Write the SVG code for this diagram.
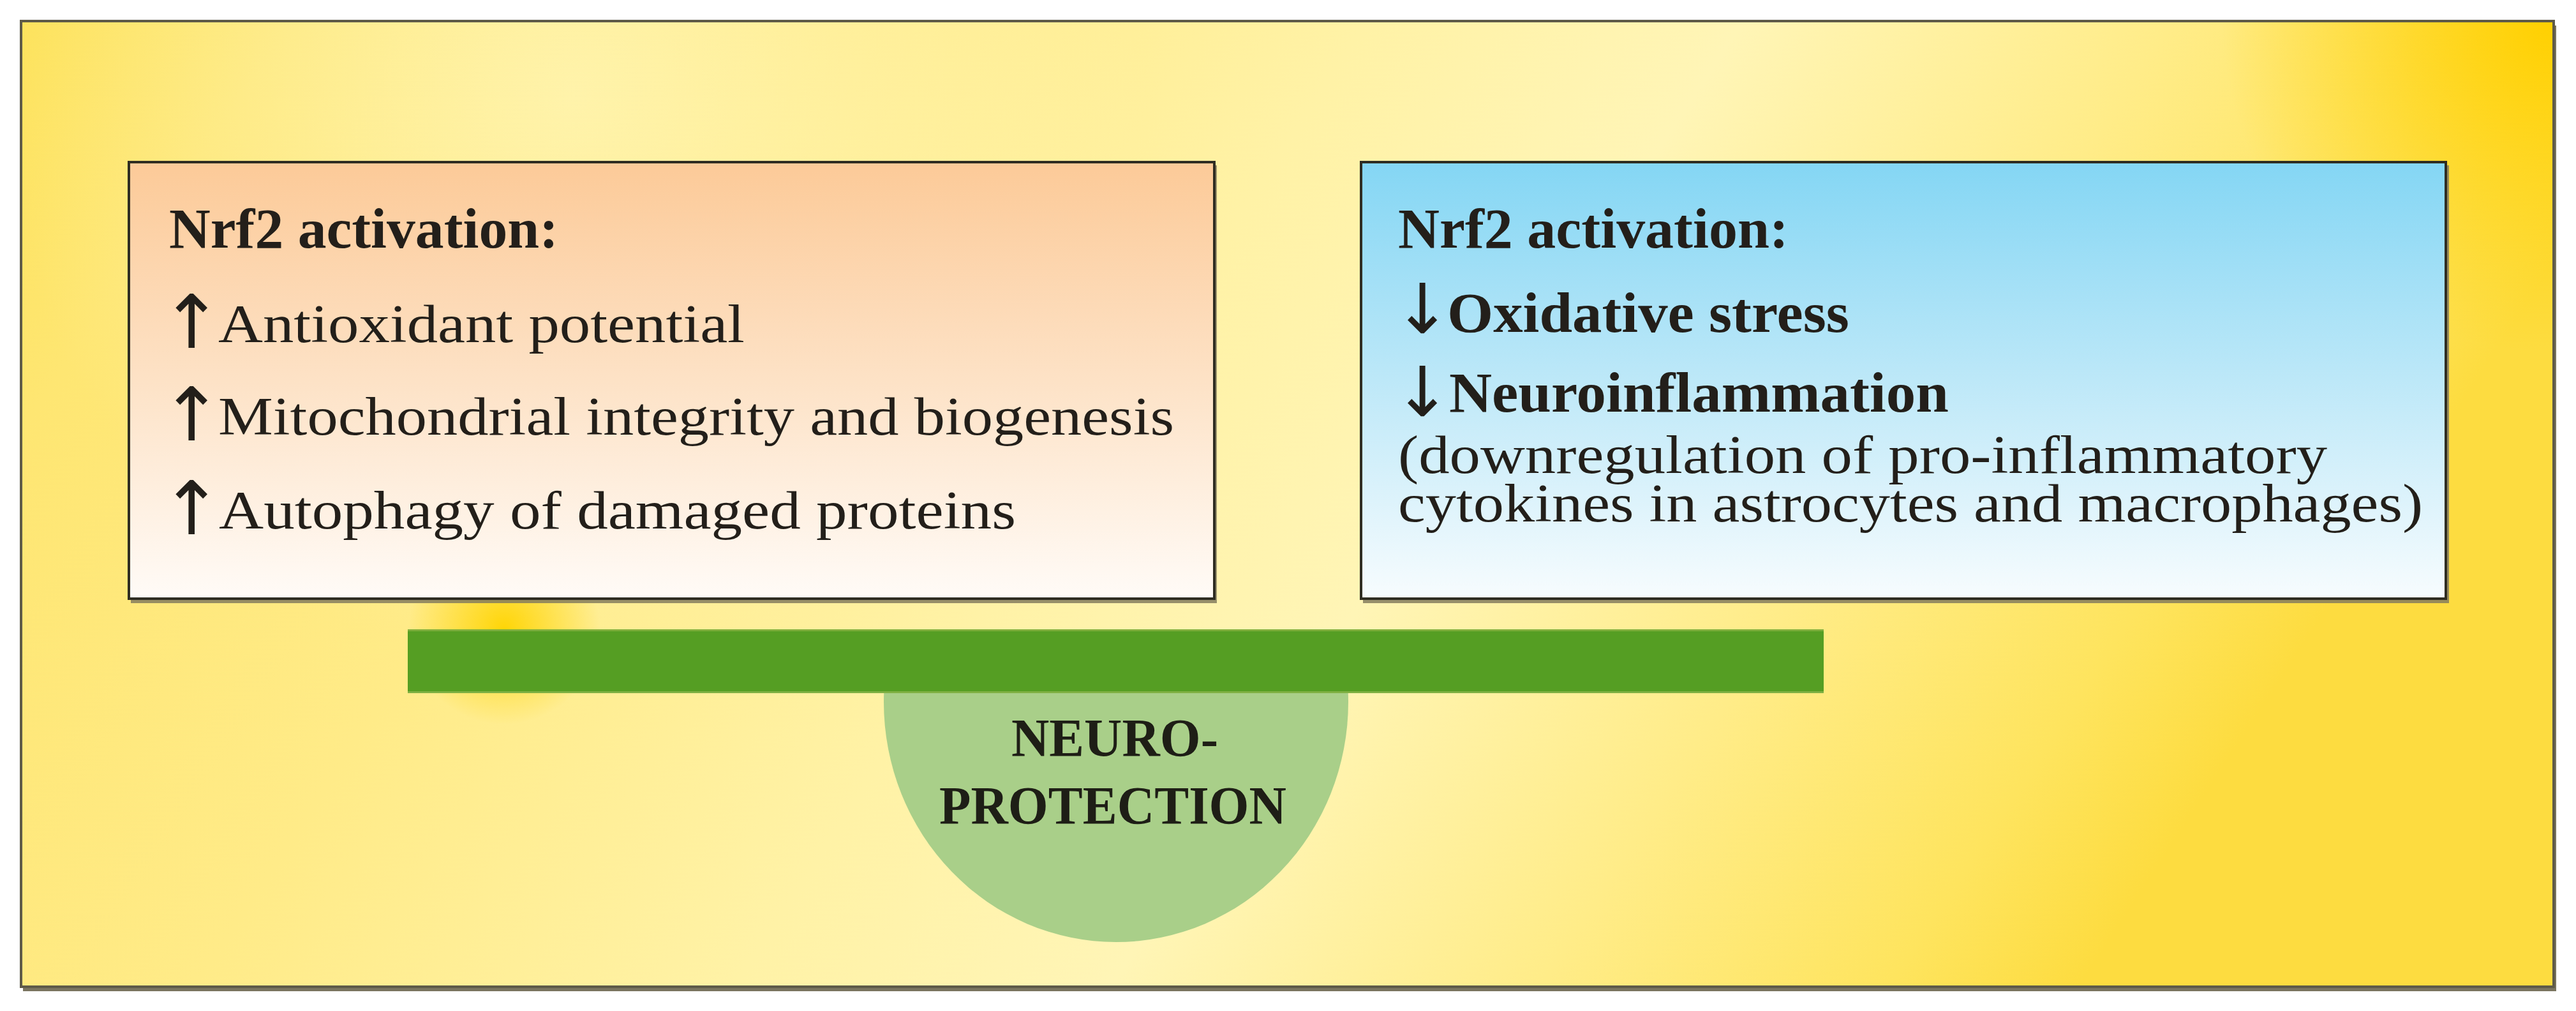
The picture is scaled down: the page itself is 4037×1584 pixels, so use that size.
<svg xmlns="http://www.w3.org/2000/svg" width="4037" height="1584" viewBox="0 0 4037 1584">
  <defs>
    <linearGradient id="bgLin" x1="0" y1="0" x2="1" y2="0.25">
      <stop offset="0" stop-color="#fde25a"/>
      <stop offset="0.1" stop-color="#fee672"/>
      <stop offset="0.3" stop-color="#ffeb88"/>
      <stop offset="0.5" stop-color="#fff2a6"/>
      <stop offset="0.64" stop-color="#fff5b6"/>
      <stop offset="0.8" stop-color="#ffec88"/>
      <stop offset="0.93" stop-color="#fee45e"/>
      <stop offset="1" stop-color="#fddc40"/>
    </linearGradient>
    <radialGradient id="goldCorner" cx="4002" cy="33" r="520" gradientUnits="userSpaceOnUse">
      <stop offset="0" stop-color="#ffd000" stop-opacity="1"/>
      <stop offset="1" stop-color="#ffd000" stop-opacity="0"/>
    </radialGradient>
    <radialGradient id="goldSpot" cx="790" cy="985" r="150" gradientUnits="userSpaceOnUse">
      <stop offset="0" stop-color="#ffd400" stop-opacity="0.95"/>
      <stop offset="1" stop-color="#ffd400" stop-opacity="0"/>
    </radialGradient>
    <radialGradient id="lightTL" cx="900" cy="150" r="900" gradientUnits="userSpaceOnUse">
      <stop offset="0" stop-color="#fff6b8" stop-opacity="0.75"/>
      <stop offset="1" stop-color="#fff6b8" stop-opacity="0"/>
    </radialGradient>
    <linearGradient id="peach" x1="0" y1="0" x2="0" y2="1">
      <stop offset="0" stop-color="#fcca98"/>
      <stop offset="0.5" stop-color="#fde2c6"/>
      <stop offset="1" stop-color="#fffbf7"/>
    </linearGradient>
    <linearGradient id="sky" x1="0" y1="0" x2="0" y2="1">
      <stop offset="0" stop-color="#84d6f4"/>
      <stop offset="0.5" stop-color="#bde8f8"/>
      <stop offset="1" stop-color="#f7fcfe"/>
    </linearGradient>
    <clipPath id="belowBar">
      <rect x="1300" y="1086" width="900" height="500"/>
    </clipPath>
    <style>
      .box { stroke: #2f2d22; stroke-width: 4; }
      .shadow { fill: #857d5e; opacity: 0.85; }
      .bold { font-family: "Liberation Serif", "Times New Roman", serif; font-weight: bold; font-size: 88px; fill: #231f1a; }
      .reg { font-family: "Liberation Serif", "Times New Roman", serif; font-size: 84px; fill: #231f1a; }
      .arrow { font-family: "DejaVu Sans", sans-serif; font-size: 116px; fill: #231f1a; text-anchor: middle; }
      .arrow-s { font-family: "DejaVu Sans", sans-serif; font-size: 108px; fill: #231f1a; text-anchor: middle; }
      .neuro { font-family: "Liberation Serif", "Times New Roman", serif; font-weight: bold; font-size: 84px; fill: #1e1e16; text-anchor: middle; }
    </style>
  </defs>

  <rect width="4037" height="1584" fill="#ffffff"/>

  <g id="background">
    <rect x="36" y="40" width="3970" height="1513" fill="#7a7560"/>
    <rect x="33" y="33" width="3969" height="1513" fill="url(#bgLin)"/>
    <rect x="33" y="33" width="3969" height="1513" fill="url(#lightTL)"/>
    <rect x="33" y="33" width="3969" height="1513" fill="url(#goldCorner)"/>
    <rect x="33" y="33" width="3969" height="1513" fill="url(#goldSpot)"/>
    <rect x="33" y="33" width="3969" height="1513" fill="none" stroke="#5e5a48" stroke-width="4"/>
  </g>

  <g id="connectors"></g>

  <g id="node-left">
    <rect class="shadow" x="205" y="259" width="1702" height="686"/>
    <rect class="box" x="202" y="254" width="1701" height="684" fill="url(#peach)"/>
    <text class="bold" x="265" y="388" textLength="610" lengthAdjust="spacingAndGlyphs">Nrf2 activation:</text>
    <text class="arrow" x="300" y="545">↑</text>
    <text class="reg" x="342" y="536" textLength="825" lengthAdjust="spacingAndGlyphs">Antioxidant potential</text>
    <text class="arrow" x="300" y="690">↑</text>
    <text class="reg" x="342" y="681" textLength="1498" lengthAdjust="spacingAndGlyphs">Mitochondrial integrity and biogenesis</text>
    <text class="arrow" x="300" y="837">↑</text>
    <text class="reg" x="343" y="828" textLength="1249" lengthAdjust="spacingAndGlyphs">Autophagy of damaged proteins</text>
  </g>

  <g id="node-right">
    <rect class="shadow" x="2136" y="259" width="1702" height="686"/>
    <rect class="box" x="2133" y="254" width="1700" height="684" fill="url(#sky)"/>
    <text class="bold" x="2191" y="388" textLength="612" lengthAdjust="spacingAndGlyphs">Nrf2 activation:</text>
    <text class="arrow-s" x="2229" y="522">↓</text>
    <text class="bold" x="2268" y="520" textLength="630" lengthAdjust="spacingAndGlyphs">Oxidative stress</text>
    <text class="arrow-s" x="2229" y="652">↓</text>
    <text class="bold" x="2271" y="645" textLength="783" lengthAdjust="spacingAndGlyphs">Neuroinflammation</text>
    <text class="reg" x="2191" y="741" textLength="1456" lengthAdjust="spacingAndGlyphs">(downregulation of pro-inflammatory</text>
    <text class="reg" x="2191" y="817" textLength="1606" lengthAdjust="spacingAndGlyphs">cytokines in astrocytes and macrophages)</text>
  </g>

  <g id="node-neuroprotection">
    <ellipse cx="1749" cy="1100" rx="364" ry="376" fill="#a9cf89" clip-path="url(#belowBar)"/>
    <text class="neuro" x="1747" y="1185" textLength="324" lengthAdjust="spacingAndGlyphs">NEURO-</text>
    <text class="neuro" x="1744" y="1291" textLength="544" lengthAdjust="spacingAndGlyphs">PROTECTION</text>
  </g>

  <g id="node-bar">
    <rect x="639" y="986" width="2219" height="100" fill="#559e23"/>
    <rect x="639" y="986" width="2219" height="3" fill="#7fae3c"/>
    <rect x="639" y="1083" width="2219" height="3" fill="#7fb043"/>
  </g>
</svg>
